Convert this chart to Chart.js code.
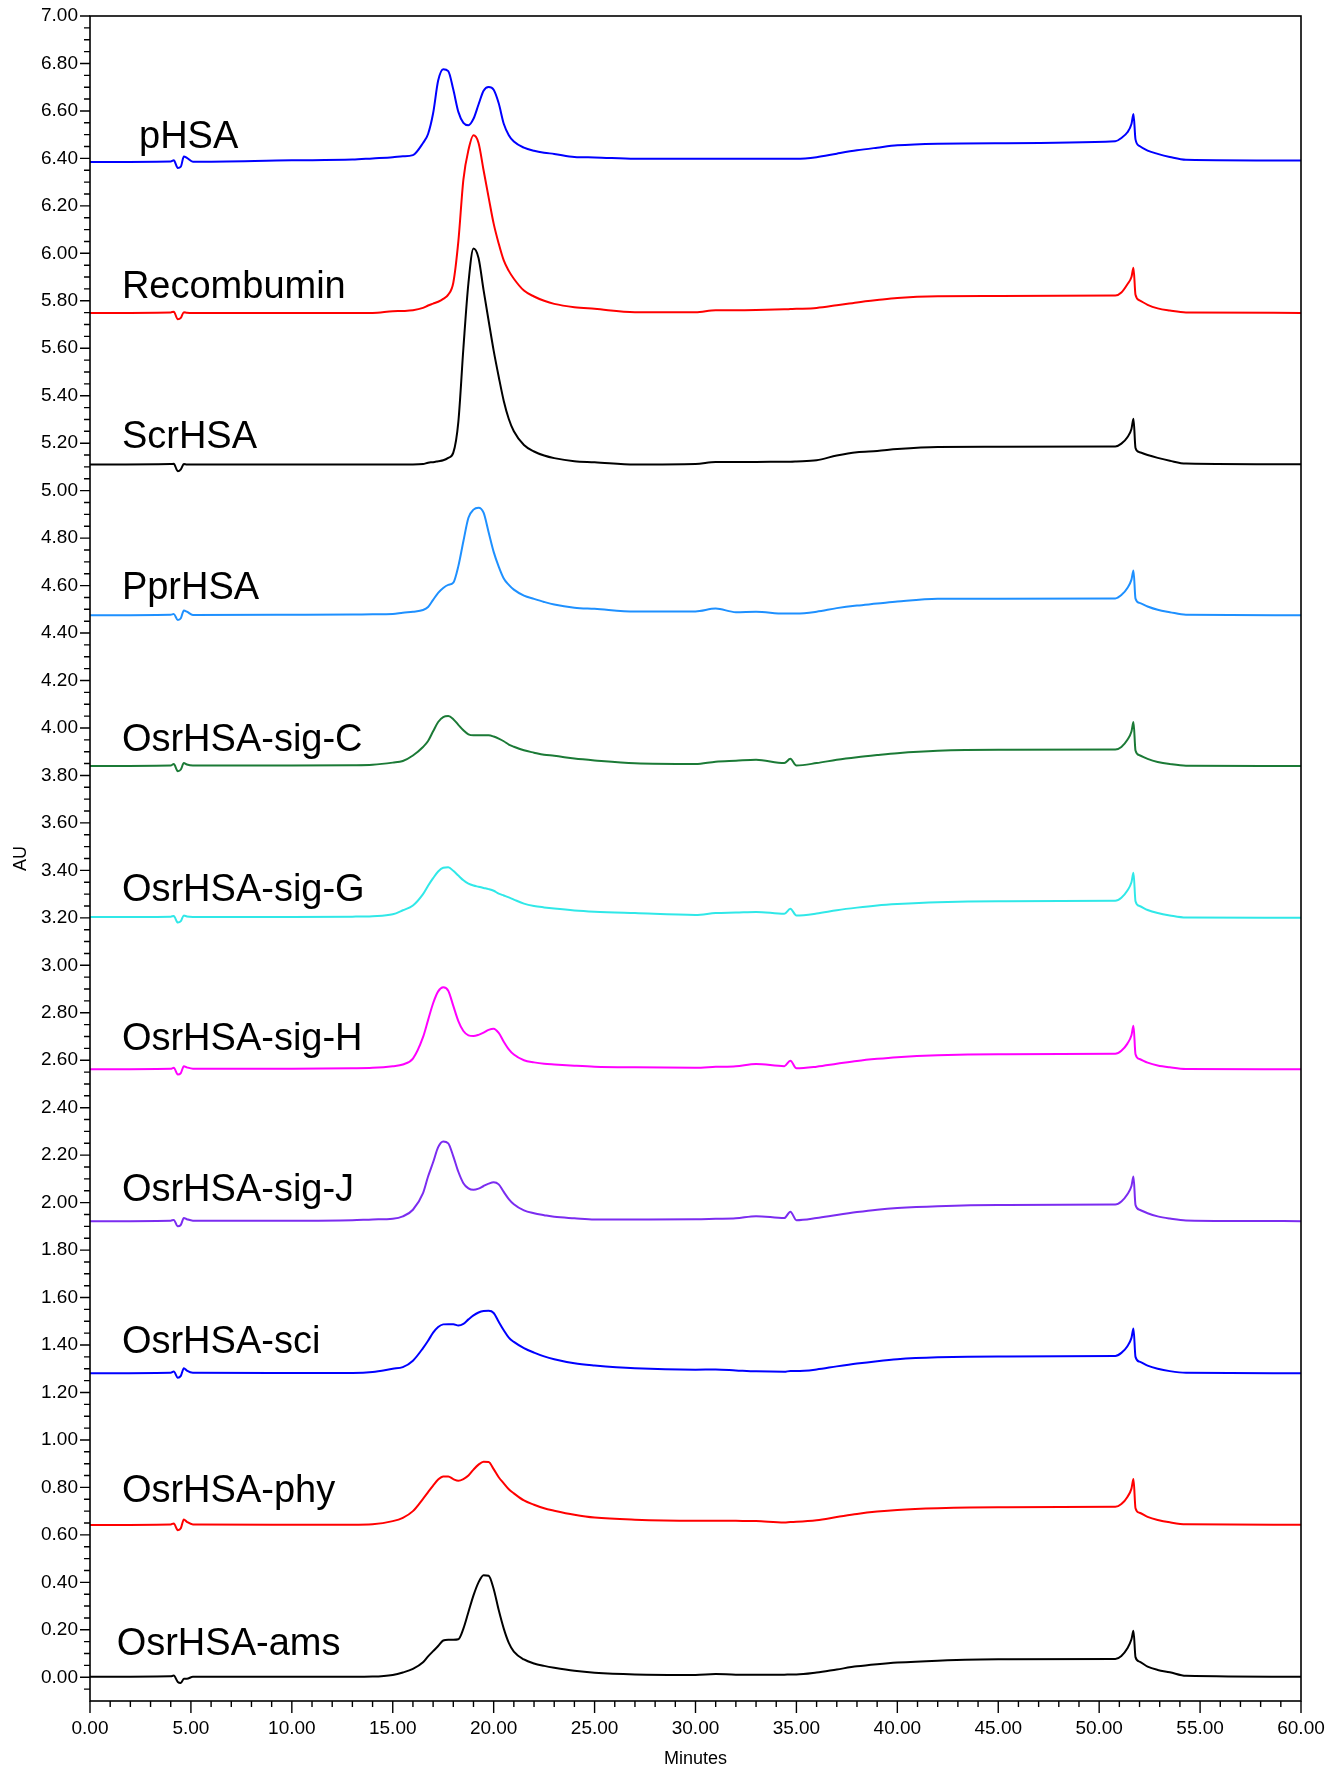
<!DOCTYPE html>
<html>
<head>
<meta charset="utf-8">
<title>Chromatogram overlay</title>
<script src="https://cdn.jsdelivr.net/npm/chart.js@4.4.1/dist/chart.umd.min.js"></script>
<style>
  html, body { margin: 0; padding: 0; background: #fff; }
  #wrap { width: 1342px; height: 1769px; position: relative; }
</style>
</head>
<body>
<div id="wrap"><canvas id="chrom"></canvas></div>
<script>
// Retention time grid (minutes) shared by every trace
const minutes = [
  0, 4.0, 4.15, 4.35, 4.5, 4.65, 4.8, 5.1,
  10, 13, 14, 15, 15.5, 16, 16.5, 16.75,
  17, 17.25, 17.5, 17.75, 18, 18.25, 18.5, 18.75,
  19, 19.25, 19.5, 19.75, 20, 20.25, 20.5, 20.75,
  21, 21.5, 22, 22.5, 23, 24, 25, 27,
  30, 31, 32, 33, 34.4, 34.7, 35, 36,
  37, 38, 39, 40, 42, 45, 50.8, 51.1,
  51.4, 51.6, 51.7, 51.8, 52, 52.4, 52.9, 53.5,
  54.3, 60
];

// Absorbance (AU) of each sample, offset traces as plotted
const pHSA = [
  6.385, 6.387, 6.392, 6.360, 6.365, 6.408, 6.402, 6.386,
  6.392, 6.395, 6.400, 6.405, 6.409, 6.414, 6.465, 6.503,
  6.590, 6.728, 6.776, 6.768, 6.690, 6.596, 6.550, 6.540,
  6.567, 6.627, 6.685, 6.701, 6.689, 6.632, 6.546, 6.498,
  6.471, 6.445, 6.432, 6.424, 6.419, 6.406, 6.404, 6.398,
  6.398, 6.398, 6.398, 6.398, 6.398, 6.398, 6.398, 6.405,
  6.420, 6.434, 6.445, 6.455, 6.462, 6.464, 6.472, 6.486,
  6.510, 6.545, 6.587, 6.480, 6.452, 6.433, 6.419, 6.406,
  6.394, 6.391
];
const recombumin = [
  5.749, 5.751, 5.754, 5.722, 5.728, 5.752, 5.750, 5.749,
  5.749, 5.749, 5.749, 5.756, 5.757, 5.760, 5.770, 5.780,
  5.788, 5.796, 5.808, 5.826, 5.876, 6.050, 6.311, 6.435,
  6.497, 6.465, 6.350, 6.236, 6.125, 6.041, 5.970, 5.926,
  5.893, 5.843, 5.818, 5.800, 5.787, 5.773, 5.766, 5.752,
  5.752, 5.760, 5.760, 5.761, 5.764, 5.765, 5.766, 5.770,
  5.781, 5.793, 5.803, 5.812, 5.819, 5.820, 5.822, 5.835,
  5.870, 5.900, 5.939, 5.825, 5.802, 5.783, 5.768, 5.759,
  5.751, 5.749
];
const scrHSA = [
  5.110, 5.112, 5.113, 5.082, 5.090, 5.112, 5.110, 5.110,
  5.110, 5.110, 5.110, 5.110, 5.110, 5.110, 5.112, 5.118,
  5.120, 5.124, 5.128, 5.138, 5.160, 5.290, 5.600, 5.875,
  6.020, 5.980, 5.845, 5.716, 5.590, 5.480, 5.378, 5.302,
  5.250, 5.192, 5.165, 5.148, 5.137, 5.124, 5.120, 5.110,
  5.112, 5.121, 5.121, 5.121, 5.122, 5.122, 5.123, 5.128,
  5.148, 5.162, 5.167, 5.175, 5.184, 5.185, 5.186, 5.198,
  5.225, 5.260, 5.303, 5.180, 5.162, 5.150, 5.138, 5.126,
  5.114, 5.111
];
const pprHSA = [
  4.475, 4.477, 4.480, 4.455, 4.462, 4.495, 4.490, 4.476,
  4.477, 4.478, 4.479, 4.480, 4.486, 4.490, 4.497, 4.510,
  4.540, 4.569, 4.590, 4.603, 4.612, 4.682, 4.787, 4.886,
  4.920, 4.928, 4.907, 4.825, 4.742, 4.680, 4.630, 4.603,
  4.583, 4.558, 4.544, 4.531, 4.520, 4.507, 4.502, 4.491,
  4.491, 4.503, 4.488, 4.490, 4.482, 4.482, 4.482, 4.490,
  4.505, 4.516, 4.524, 4.533, 4.545, 4.545, 4.546, 4.560,
  4.590, 4.625, 4.664, 4.545, 4.527, 4.512, 4.498, 4.488,
  4.477, 4.475
];
const osrSigC = [
  3.840, 3.842, 3.848, 3.818, 3.825, 3.852, 3.846, 3.842,
  3.842, 3.843, 3.845, 3.854, 3.861, 3.884, 3.920, 3.945,
  3.986, 4.025, 4.046, 4.050, 4.037, 4.013, 3.990, 3.973,
  3.969, 3.969, 3.969, 3.969, 3.964, 3.955, 3.944, 3.930,
  3.921, 3.906, 3.896, 3.887, 3.883, 3.871, 3.863, 3.851,
  3.848, 3.858, 3.862, 3.866, 3.852, 3.870, 3.842, 3.852,
  3.866, 3.877, 3.886, 3.894, 3.904, 3.908, 3.909, 3.920,
  3.950, 3.985, 4.025, 3.905, 3.885, 3.870, 3.857, 3.848,
  3.841, 3.840
];
const osrSigG = [
  3.203, 3.205, 3.208, 3.180, 3.186, 3.210, 3.206, 3.204,
  3.204, 3.205, 3.207, 3.215, 3.232, 3.252, 3.300, 3.335,
  3.367, 3.395, 3.411, 3.413, 3.398, 3.378, 3.358, 3.344,
  3.336, 3.331, 3.326, 3.321, 3.314, 3.302, 3.294, 3.286,
  3.277, 3.260, 3.250, 3.244, 3.239, 3.231, 3.226, 3.220,
  3.212, 3.220, 3.222, 3.225, 3.217, 3.238, 3.210, 3.218,
  3.232, 3.243, 3.252, 3.258, 3.266, 3.270, 3.272, 3.285,
  3.315, 3.350, 3.390, 3.270, 3.250, 3.233, 3.220, 3.210,
  3.201, 3.200
];
const osrSigH = [
  2.562, 2.564, 2.568, 2.540, 2.546, 2.575, 2.570, 2.564,
  2.564, 2.566, 2.568, 2.575, 2.582, 2.607, 2.697, 2.769,
  2.840, 2.890, 2.907, 2.893, 2.829, 2.765, 2.723, 2.705,
  2.702, 2.707, 2.716, 2.728, 2.733, 2.715, 2.678, 2.646,
  2.624, 2.600, 2.591, 2.585, 2.582, 2.577, 2.573, 2.570,
  2.568, 2.572, 2.575, 2.584, 2.575, 2.598, 2.566, 2.573,
  2.585, 2.597, 2.606, 2.613, 2.621, 2.625, 2.627, 2.640,
  2.670, 2.705, 2.745, 2.625, 2.605, 2.590, 2.578, 2.570,
  2.563, 2.562
];
const osrSigJ = [
  1.922, 1.924, 1.927, 1.900, 1.906, 1.935, 1.930, 1.924,
  1.924, 1.926, 1.929, 1.932, 1.942, 1.970, 2.040, 2.110,
  2.170, 2.234, 2.258, 2.250, 2.195, 2.130, 2.082, 2.060,
  2.054, 2.059, 2.070, 2.080, 2.086, 2.077, 2.045, 2.015,
  1.993, 1.967, 1.955, 1.947, 1.940, 1.934, 1.929, 1.929,
  1.930, 1.932, 1.934, 1.943, 1.935, 1.962, 1.926, 1.935,
  1.948, 1.960, 1.970, 1.977, 1.985, 1.990, 1.992, 2.005,
  2.035, 2.070, 2.110, 1.990, 1.970, 1.955, 1.942, 1.933,
  1.925, 1.922
];
const osrSci = [
  1.281, 1.283, 1.288, 1.262, 1.270, 1.302, 1.292, 1.283,
  1.282, 1.282, 1.286, 1.300, 1.307, 1.334, 1.387, 1.418,
  1.452, 1.476, 1.487, 1.488, 1.488, 1.482, 1.489, 1.508,
  1.525, 1.537, 1.543, 1.544, 1.535, 1.498, 1.462, 1.431,
  1.413, 1.387, 1.368, 1.352, 1.340, 1.323, 1.314, 1.302,
  1.296, 1.297, 1.293, 1.289, 1.287, 1.291, 1.290, 1.297,
  1.310, 1.322, 1.332, 1.340, 1.348, 1.352, 1.354, 1.367,
  1.395, 1.430, 1.470, 1.350, 1.330, 1.313, 1.300, 1.290,
  1.283, 1.281
];
const osrPhy = [
  0.642, 0.644, 0.648, 0.620, 0.628, 0.665, 0.655, 0.644,
  0.643, 0.643, 0.645, 0.658, 0.672, 0.700, 0.752, 0.780,
  0.808, 0.833, 0.846, 0.846, 0.835, 0.828, 0.835, 0.850,
  0.875, 0.896, 0.908, 0.907, 0.877, 0.843, 0.817, 0.792,
  0.775, 0.745, 0.727, 0.712, 0.702, 0.685, 0.673, 0.664,
  0.660, 0.660, 0.659, 0.658, 0.652, 0.654, 0.655, 0.662,
  0.675, 0.688, 0.698, 0.705, 0.712, 0.716, 0.718, 0.730,
  0.760, 0.795, 0.835, 0.712, 0.693, 0.676, 0.663, 0.653,
  0.645, 0.643
];
const osrAms = [
  0.002, 0.004, 0.007, -0.020, -0.024, -0.006, -0.006, 0.002,
  0.002, 0.002, 0.003, 0.010, 0.020, 0.035, 0.063, 0.088,
  0.110, 0.132, 0.155, 0.158, 0.158, 0.160, 0.205, 0.275,
  0.345, 0.400, 0.430, 0.428, 0.372, 0.283, 0.205, 0.145,
  0.108, 0.075, 0.058, 0.048, 0.040, 0.027, 0.019, 0.012,
  0.010, 0.014, 0.011, 0.011, 0.011, 0.012, 0.012, 0.020,
  0.033, 0.046, 0.055, 0.062, 0.070, 0.076, 0.077, 0.090,
  0.122, 0.160, 0.196, 0.085, 0.066, 0.045, 0.031, 0.021,
  0.006, 0.002
];

const sampleNames = [
  'pHSA', 'Recombumin', 'ScrHSA', 'PprHSA', 'OsrHSA-sig-C', 'OsrHSA-sig-G',
  'OsrHSA-sig-H', 'OsrHSA-sig-J', 'OsrHSA-sci', 'OsrHSA-phy', 'OsrHSA-ams'
];

// Axis tick labels
const auTickLabels = [
  '0.00', '0.20', '0.40', '0.60', '0.80', '1.00', '1.20', '1.40', '1.60', '1.80',
  '2.00', '2.20', '2.40', '2.60', '2.80', '3.00', '3.20', '3.40', '3.60', '3.80',
  '4.00', '4.20', '4.40', '4.60', '4.80', '5.00', '5.20', '5.40', '5.60', '5.80',
  '6.00', '6.20', '6.40', '6.60', '6.80', '7.00'
];
const minuteTickLabels = [
  '0.00', '5.00', '10.00', '15.00', '20.00', '25.00', '30.00',
  '35.00', '40.00', '45.00', '50.00', '55.00', '60.00'
];

// Presentation
const traceValues = [pHSA, recombumin, scrHSA, pprHSA, osrSigC, osrSigG,
                     osrSigH, osrSigJ, osrSci, osrPhy, osrAms];
const traceColors = ['#0000FF', '#FF0000', '#000000', '#1E90FF', '#1B7A36', '#30E8E8',
                     '#FF00FF', '#7B2CF0', '#0000FF', '#FF0000', '#000000'];
// where each sample name sits (minutes, AU of text baseline)
const nameAnchor = {
  minutes: [2.43, 1.58, 1.58, 1.58, 1.58, 1.58, 1.58, 1.58, 1.58, 1.58, 1.32],
  au:      [6.444, 5.810, 5.178, 4.542, 3.905, 3.273, 2.642, 2.005, 1.368, 0.737, 0.095]
};
const FONT = '"Liberation Sans", Arial, Helvetica, sans-serif';

// Plot frame plus major/minor tick marks on both axes
const frameAndTicks = {
  id: 'frameAndTicks',
  afterDraw(chart) {
    const { ctx, chartArea: a, scales: { x, y } } = chart;
    ctx.save();
    ctx.strokeStyle = '#000';
    ctx.lineWidth = 1.6;
    ctx.strokeRect(a.left, a.top, a.right - a.left, a.bottom - a.top);
    ctx.lineWidth = 1.4;
    ctx.beginPath();
    for (let k = 0; k <= 60; k++) {
      const px = x.getPixelForValue(k);
      const len = k % 5 === 0 ? 12 : 6;
      ctx.moveTo(px, a.bottom);
      ctx.lineTo(px, a.bottom + len);
    }
    for (let k = -1; k <= 140; k++) {
      const py = y.getPixelForValue(k * 0.05);
      const len = k % 4 === 0 ? 10 : 6;
      ctx.moveTo(a.left - len, py);
      ctx.lineTo(a.left, py);
    }
    ctx.stroke();
    ctx.restore();
  }
};

// Sample names written beside their traces
const traceNames = {
  id: 'traceNames',
  afterDatasetsDraw(chart) {
    const { ctx, scales: { x, y } } = chart;
    ctx.save();
    ctx.font = '38px ' + FONT;
    ctx.fillStyle = '#000';
    ctx.textAlign = 'left';
    ctx.textBaseline = 'alphabetic';
    sampleNames.forEach((name, i) => {
      ctx.fillText(name, x.getPixelForValue(nameAnchor.minutes[i]), y.getPixelForValue(nameAnchor.au[i]));
    });
    ctx.restore();
  }
};

new Chart(document.getElementById('chrom'), {
  type: 'line',
  data: {
    datasets: sampleNames.map((name, i) => ({
      label: name,
      data: minutes.map((t, j) => ({ x: t, y: traceValues[i][j] })),
      borderColor: traceColors[i],
      borderWidth: 2,
      pointRadius: 0,
      fill: false,
      cubicInterpolationMode: 'monotone'
    }))
  },
  options: {
    responsive: true,
    maintainAspectRatio: false,
    animation: false,
    devicePixelRatio: 1,
    layout: { padding: { top: 16, right: 41, left: 0, bottom: 0 } },
    plugins: { legend: { display: false }, tooltip: { enabled: false } },
    scales: {
      x: {
        type: 'linear', min: 0, max: 60,
        afterBuildTicks: s => { s.ticks = minuteTickLabels.map(l => ({ value: parseFloat(l) })); },
        afterFit: s => { s.height = 68; },
        grid: { display: false, drawTicks: false },
        border: { display: false },
        ticks: {
          callback: (v, i) => minuteTickLabels[i],
          font: { family: FONT, size: 19 }, color: '#000',
          padding: 16, maxRotation: 0, autoSkip: false
        },
        title: { display: true, text: 'Minutes', font: { family: FONT, size: 18 }, color: '#000',
                 padding: { top: 0, bottom: -1 } }
      },
      y: {
        type: 'linear', min: -0.1, max: 7.0,
        afterBuildTicks: s => { s.ticks = auTickLabels.map(l => ({ value: parseFloat(l) })); },
        afterFit: s => { s.width = 90; s.paddingTop = 0; s.paddingBottom = 0; },
        grid: { display: false, drawTicks: false },
        border: { display: false },
        ticks: {
          callback: (v, i) => auTickLabels[i],
          font: { family: FONT, size: 19 }, color: '#000',
          padding: 12, autoSkip: false
        },
        title: { display: true, text: 'AU', font: { family: FONT, size: 18 }, color: '#000',
                 padding: { top: 10, bottom: 0 } }
      }
    }
  },
  plugins: [frameAndTicks, traceNames]
});
</script>
</body>
</html>
